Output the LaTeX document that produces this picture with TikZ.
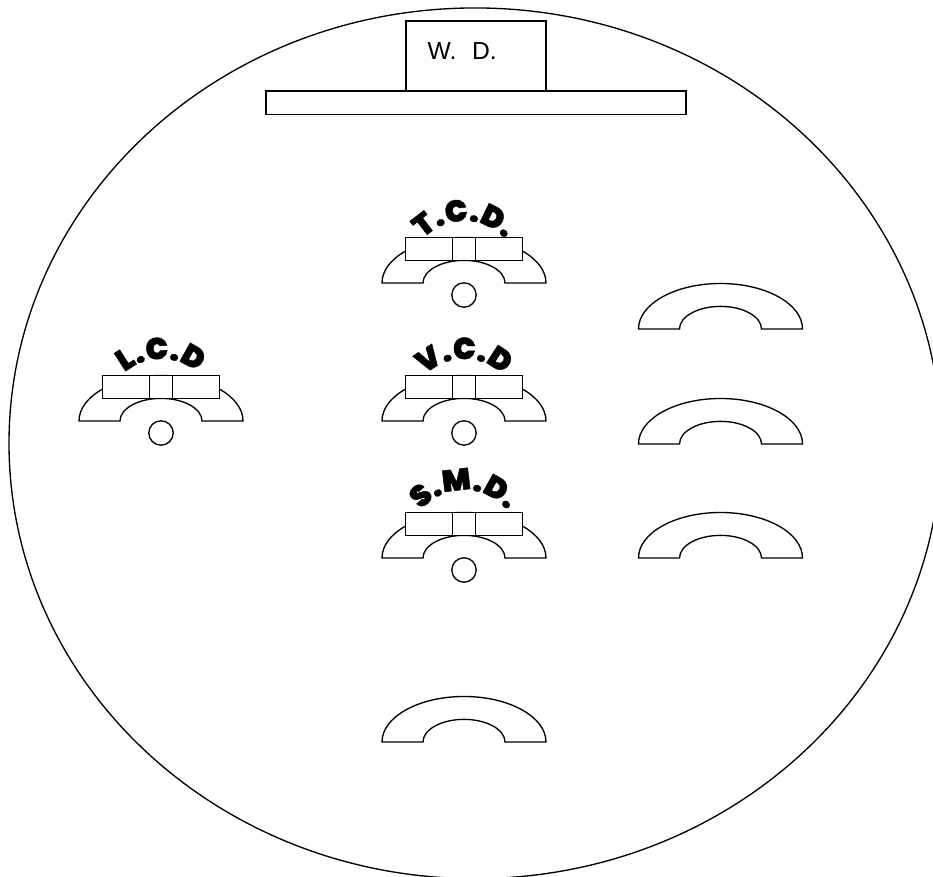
\documentclass[tikz,border=0pt]{standalone}
\usepackage{fontspec}
\setmainfont{Liberation Sans}
\newfontfamily\labelfont[UprightFont=* Black,RawFeature={embolden=1.5}]{Poppins}
\usetikzlibrary{positioning,decorations.text,shapes.geometric}

\tikzset{
  plate/.style={draw, fill=white, inner sep=0pt, outer sep=0pt, minimum height=17.4pt},
  sidebox/.style={plate, minimum width=35pt},
  midbox/.style={plate, minimum width=17.5pt},
  port/.style={draw, circle, inner sep=0pt, minimum size=18.3pt},
  pics/arch/.style={code={
    \draw[fill=white] (-82,0) arc[start angle=180, end angle=0, x radius=82, y radius=45.5]
      -- (41,0) arc[start angle=0, end angle=180, x radius=41, y radius=22.6] -- cycle;
  }},
  pics/damper/.style n args={2}{code={
    \pic {arch};
    \node[midbox] (-mid) at (0,34) {};
    \node[sidebox] (-left) [left=0pt of -mid] {};
    \node[sidebox] (-right) [right=0pt of -mid] {};
    \node[port] (-port) at (0,-12) {};
    \path[decorate, decoration={text along path, text align=center, text={|\labelfont\fontsize{22.5}{23}\selectfont|#1}}]
      (-52.6,#2-36.85) arc[start angle=160, end angle=20, radius=56];
  }}
}

\begin{document}
\begin{tikzpicture}[x=0.75pt, y=0.75pt, line width=1pt]
\useasboundingbox (0,0) rectangle (933,877);
\clip (0,0) rectangle (933,877);
\node[draw, ellipse, minimum width=699pt, minimum height=653pt, inner sep=0pt] (casing) at (475,433.7) {};

% top of the casing
\node[plate, minimum width=315pt, minimum height=17.7pt] (bar) at (476,774.3) {};
\node[plate, minimum width=105pt, minimum height=52.5pt] (wd) [above=0pt of bar] {};
\node[anchor=base west, inner sep=0pt, font=\fontsize{18.5}{20}\selectfont] (wdtext) at (427,817) {W.\hspace{0.36em} D.};

% dampers with labels
\pic (tcd) at (464,594) {damper={T.C.D.}{62}};
\pic (vcd) at (464,456) {damper={V.C.D}{62}};
\pic (smd) at (464,319) {damper={S.M.D.}{68}};
\pic (lcd) at (161,456) {damper={L.C.D}{62}};

% plain ones
\pic (a1) at (720.5,548) {arch};
\pic (a2) at (720.5,433) {arch};
\pic (a3) at (720.5,319) {arch};
\pic (a4) at (464,135) {arch};
\end{tikzpicture}
\end{document}
